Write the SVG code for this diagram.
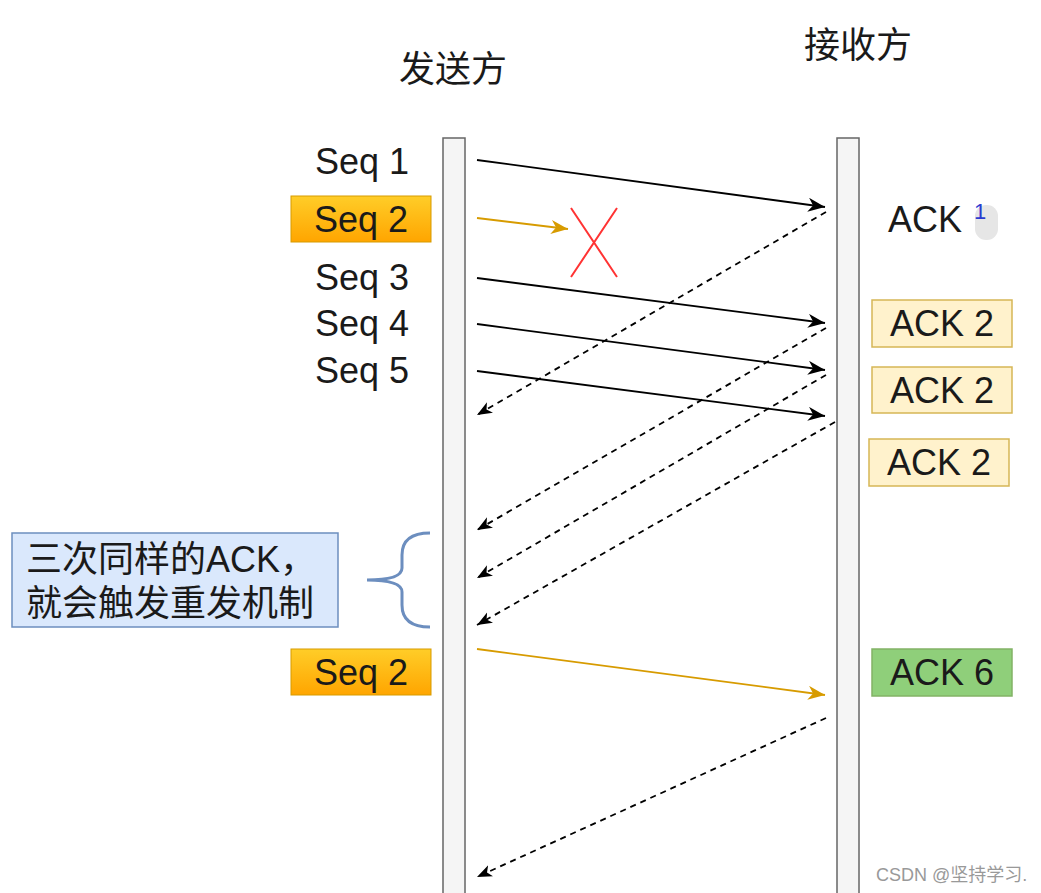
<svg xmlns="http://www.w3.org/2000/svg" width="1041" height="893" viewBox="0 0 1041 893">
<defs>
<linearGradient id="og" x1="0" y1="0" x2="0" y2="1"><stop offset="0" stop-color="#ffcd28"/><stop offset="1" stop-color="#ffa500"/></linearGradient>
<marker id="ab" refX="17" refY="7" markerWidth="19" markerHeight="16" orient="auto" markerUnits="userSpaceOnUse"><path d="M0,0 L17,7 L0,14 L5,7 z" fill="#000"/></marker>
<marker id="ad" refX="15" refY="6" markerWidth="17" markerHeight="14" orient="auto" markerUnits="userSpaceOnUse"><path d="M0,0 L15,6 L0,12 L4,6 z" fill="#000"/></marker>
<marker id="ao" refX="17" refY="7" markerWidth="19" markerHeight="16" orient="auto" markerUnits="userSpaceOnUse"><path d="M0,0 L17,7 L0,14 L5,7 z" fill="#d79b00"/></marker>
<style>
.t{font-family:"Liberation Sans","Noto Sans CJK SC",sans-serif;fill:#1a1a1a}
.s{font-size:36px}
.bar{fill:#f5f5f5;stroke:#666;stroke-width:1.5}
.msg{stroke:#000;stroke-width:1.8;fill:none;marker-end:url(#ab)}
.ack{stroke:#000;stroke-width:1.8;fill:none;stroke-dasharray:6,5;marker-end:url(#ad)}
.org{stroke:#d79b00;stroke-width:1.8;fill:none;marker-end:url(#ao)}
.yb{fill:#fff2cc;stroke:#d6b656;stroke-width:1.5}
.ob{fill:url(#og);stroke:#d79b00;stroke-width:1}
</style>
</defs>
<rect width="1041" height="893" fill="#fff"/>
<g id="title-sender"><text class="t" x="453" y="82" font-size="36" text-anchor="middle">发送方</text></g>
<g id="title-receiver"><text class="t" x="858" y="58" font-size="36" text-anchor="middle">接收方</text></g>
<g id="sender-bar"><rect class="bar" x="443" y="138" width="22" height="760"/></g>
<g id="receiver-bar"><rect class="bar" x="837" y="138" width="22" height="760"/></g>
<g id="seq1"><text class="t s" x="409" y="174" text-anchor="end">Seq 1</text></g>
<g id="seq2"><rect class="ob" x="291" y="196" width="140" height="46"/><text class="t s" x="361" y="232" text-anchor="middle">Seq 2</text></g>
<g id="seq3"><text class="t s" x="409" y="290" text-anchor="end">Seq 3</text></g>
<g id="seq4"><text class="t s" x="409" y="336" text-anchor="end">Seq 4</text></g>
<g id="seq5"><text class="t s" x="409" y="383" text-anchor="end">Seq 5</text></g>
<g id="seq2-retx"><rect class="ob" x="291" y="649" width="140" height="46"/><text class="t s" x="361" y="685" text-anchor="middle">Seq 2</text></g>
<g id="ack1"><rect x="975" y="205" width="23" height="35" rx="11" fill="#e6e6e6"/><text class="t s" x="888" y="232">ACK</text><text x="974" y="219" font-size="22" fill="#2b3bd0" font-family="Liberation Sans,sans-serif">1</text></g>
<g id="ack2a"><rect class="yb" x="872" y="300" width="140" height="47"/><text class="t s" x="942" y="336" text-anchor="middle">ACK 2</text></g>
<g id="ack2b"><rect class="yb" x="872" y="367" width="140" height="46"/><text class="t s" x="942" y="403" text-anchor="middle">ACK 2</text></g>
<g id="ack2c"><rect class="yb" x="869" y="439" width="140" height="47"/><text class="t s" x="939" y="475" text-anchor="middle">ACK 2</text></g>
<g id="ack6"><rect x="872" y="649" width="140" height="47" fill="#8fcf7a" stroke="#82b366" stroke-width="1.5"/><text class="t s" x="942" y="685" text-anchor="middle">ACK 6</text></g>
<g id="note"><rect x="12" y="533" width="326" height="94" fill="#dae8fc" stroke="#6c8ebf" stroke-width="1.5"/><text class="t" font-size="36" x="26" y="572">三次同样的ACK，</text><text class="t" font-size="36" x="26" y="616">就会触发重发机制</text></g>
<g id="brace"><path d="M430,533 Q402,533 402,555 L402,568 Q402,580 367,580 Q402,580 402,592 L402,605 Q402,627 430,627" fill="none" stroke="#6c8ebf" stroke-width="3"/></g>
<g id="lost"><path d="M571,208 L617,277 M617,208 L571,277" stroke="#ff3333" stroke-width="2" fill="none"/></g>
<g id="connectors">
<line class="msg" x1="477" y1="160" x2="825" y2="207"/>
<line class="org" x1="477" y1="218" x2="568" y2="229"/>
<line class="msg" x1="477" y1="278" x2="825" y2="323"/>
<line class="msg" x1="477" y1="324" x2="825" y2="370"/>
<line class="msg" x1="477" y1="371" x2="825" y2="416"/>
<line class="ack" x1="826" y1="212" x2="477" y2="415"/>
<line class="ack" x1="826" y1="328" x2="477" y2="530"/>
<line class="ack" x1="826" y1="375" x2="477" y2="578"/>
<line class="ack" x1="835" y1="422" x2="477" y2="625"/>
<line class="org" x1="477" y1="649" x2="825" y2="695"/>
<line class="ack" x1="826" y1="718" x2="477" y2="877"/>
</g>
<g id="watermark"><text x="876" y="881" font-size="18" fill="#999" font-family="Liberation Sans,Noto Sans CJK SC,sans-serif">CSDN @坚持学习.</text></g>
</svg>
